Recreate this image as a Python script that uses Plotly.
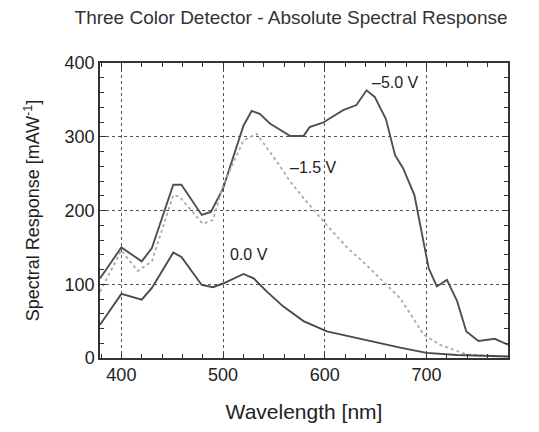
import plotly.graph_objects as go

# -5.0 V bias
wl_5v = [379, 400, 420, 430, 451, 459, 479, 488, 500, 520, 528, 536, 546, 566, 579, 585, 598, 618, 631, 641, 649, 660, 669, 677, 688, 702, 710, 720, 730, 739, 751, 767, 780]
r_5v = [108, 150, 131, 149, 235, 235, 194, 198, 230, 315, 335, 331, 318, 301, 301, 313, 319, 336, 343, 363, 354, 324, 275, 257, 221, 122, 97, 106, 77, 36, 23, 26, 18]

# -1.5 V bias
wl_15v = [379, 400, 416, 430, 451, 457, 480, 490, 500, 520, 533, 553, 566, 582, 602, 621, 641, 654, 674, 697, 713, 739, 780]
r_15v = [90, 146, 118, 131, 221, 219, 182, 187, 234, 295, 304, 266, 239, 212, 180, 151, 126, 108, 81, 32, 18, 5, 2]

# 0.0 V bias
wl_0v = [379, 400, 420, 430, 451, 459, 479, 490, 500, 520, 530, 543, 559, 579, 602, 641, 674, 700, 730, 780]
r_0v = [45, 87, 79, 95, 143, 137, 99, 96, 101, 114, 108, 90, 70, 50, 36, 24, 14, 7, 4, 2]

labels = ["\u20135.0 V", "\u20131.5 V", "0.0 V"]
label_x = [669, 589, 525]
label_y = [374, 258, 141]

FONT = "Liberation Sans, Arial, sans-serif"
X_RANGE = [379, 780]
Y_RANGE = [0, 400]

fig = go.Figure()
fig.add_trace(go.Scatter(x=wl_5v, y=r_5v, mode="lines",
                         line=dict(color="#505050", width=1.9)))
fig.add_trace(go.Scatter(x=wl_15v, y=r_15v, mode="lines",
                         line=dict(color="#aaaaaa", width=1.8, dash="dot")))
fig.add_trace(go.Scatter(x=wl_0v, y=r_0v, mode="lines",
                         line=dict(color="#4a4a4a", width=1.9)))
# invisible carrier trace for the minor-tick overlay axes
fig.add_trace(go.Scatter(x=wl_0v, y=r_0v, mode="lines", xaxis="x2", yaxis="y2",
                         line=dict(width=0), opacity=0, hoverinfo="skip"))

for t, x, y in zip(labels, label_x, label_y):
    fig.add_annotation(x=x, y=y, text=t, showarrow=False,
                       font=dict(family=FONT, size=16, color="#222222"))

axis_common = dict(
    showline=True, linecolor="#333333", linewidth=1.5, mirror="allticks",
    ticks="inside", ticklen=6, tickcolor="#333333",
    showgrid=True, gridcolor="#555555", griddash="dot", gridwidth=1,
    zeroline=False,
    tickfont=dict(family=FONT, size=18, color="#222222"),
)

fig.update_layout(
    xaxis=dict(
        range=X_RANGE, tickvals=[400, 500, 600, 700],
        title=dict(text="Wavelength [nm]", font=dict(family=FONT, size=21, color="#222222"), standoff=20),
        **axis_common,
    ),
    yaxis=dict(
        range=Y_RANGE, tickvals=[0, 100, 200, 300, 400],
        title=dict(text="Spectral Response [mAW<sup>-1</sup>]", font=dict(family=FONT, size=18, color="#222222"), standoff=20),
        **axis_common,
    ),
    xaxis2=dict(overlaying="x", anchor="y2", range=X_RANGE, tick0=400, dtick=20,
                ticks="inside", ticklen=4, tickcolor="#333333", mirror="ticks",
                showticklabels=False, showgrid=False, zeroline=False, showline=False),
    yaxis2=dict(overlaying="y", anchor="x2", range=Y_RANGE, tick0=0, dtick=20,
                ticks="inside", ticklen=4, tickcolor="#333333", mirror="ticks",
                showticklabels=False, showgrid=False, zeroline=False, showline=False),
)

fig.update_layout(
    width=539, height=432,
    margin=dict(l=100, r=31, t=63, b=72),
    paper_bgcolor="white", plot_bgcolor="white",
    showlegend=False,
    title=dict(text="Three Color Detector - Absolute Spectral Response",
               x=0.54, xanchor="center", y=0.96, yanchor="middle",
               font=dict(family=FONT, size=19, color="#333333")),
)

fig.write_html("out.html")
